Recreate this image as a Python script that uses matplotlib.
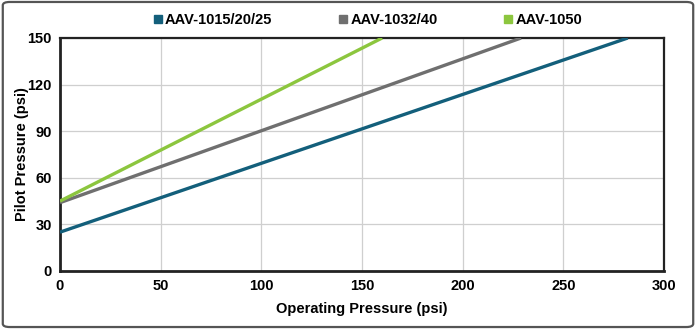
import matplotlib
matplotlib.use("Agg")
import matplotlib.pyplot as plt
from matplotlib.lines import Line2D
from matplotlib.patches import FancyBboxPatch

plt.rcParams['font.family'] = ['Liberation Sans', 'DejaVu Sans']
plt.rcParams['font.weight'] = 'bold'

# Pilot pressure vs operating pressure, straight-line relations per model
series_names = ["AAV-1015/20/25", "AAV-1032/40", "AAV-1050"]
operating_psi = [[0, 282], [0, 229], [0, 160]]
pilot_psi = [[25, 150], [44, 150], [45, 150]]
colors = ["#135f7b", "#6f6f6f", "#8cc63e"]

x_ticks = [0, 50, 100, 150, 200, 250, 300]
y_ticks = [0, 30, 60, 90, 120, 150]

fig = plt.figure(figsize=(6.96, 3.29), dpi=100)
ax = fig.add_axes([0.0862, 0.1763, 0.8678, 0.7082])

for xs, ys, c in zip(operating_psi, pilot_psi, colors):
    ax.plot(xs, ys, color=c, lw=2.4, solid_capstyle='butt', zorder=3)

ax.set_xlim(0, 300)
ax.set_ylim(0, 150)
ax.set_xticks(x_ticks)
ax.set_yticks(y_ticks)
ax.grid(True, color="#cfcfcf", lw=0.9)
ax.set_axisbelow(True)
ax.tick_params(length=0, labelsize=10.5, pad=6)
for lab in ax.get_xticklabels() + ax.get_yticklabels():
    lab.set_fontweight('bold')
for s in ax.spines.values():
    s.set_color("#222222")
    s.set_linewidth(1.6)
ax.spines['left'].set_linewidth(2.0)
ax.spines['bottom'].set_linewidth(2.0)

ax.set_xlabel("Operating Pressure (psi)", fontsize=10.5, fontweight='bold', labelpad=6)
ax.set_ylabel("Pilot Pressure (psi)", fontsize=10.5, fontweight='bold')
ax.yaxis.set_label_coords(-0.052, 0.5)

handles = [Line2D([], [], marker='s', ls='none', color=c, markersize=6) for c in colors]
fig.legend(handles, series_names, loc='center', bbox_to_anchor=(0.528, 0.939), ncol=3,
           frameon=False, prop={'weight': 'bold', 'size': 10.5},
           handletextpad=0.15, columnspacing=4.5, handlelength=0.7,
           borderpad=0, borderaxespad=0)

fig.patches.append(FancyBboxPatch((0.004, 0.006), 0.992, 0.988, boxstyle="round,pad=0,rounding_size=0.01",
                                  transform=fig.transFigure, fill=False, ec="#555555", lw=1.6))

fig.savefig("out.png", dpi=100, facecolor="white")
